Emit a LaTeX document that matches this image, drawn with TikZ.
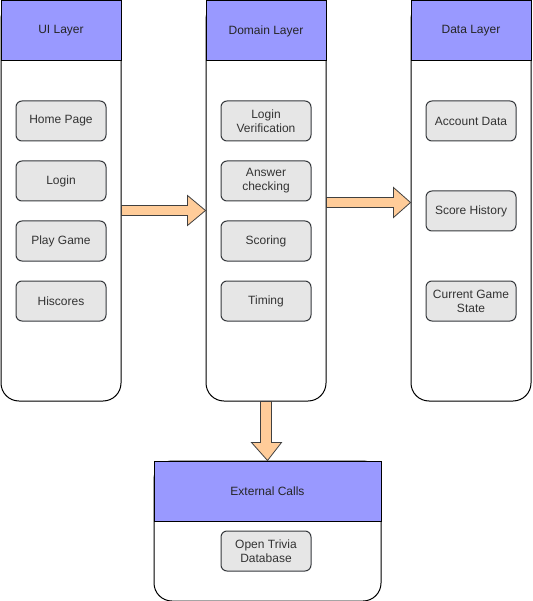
\documentclass[tikz,border=0pt]{standalone}
\usepackage{fontspec}
\setmainfont{Liberation Sans}
\usetikzlibrary{calc}
\definecolor{hdr}{HTML}{9999FF}
\definecolor{arr}{HTML}{FFCC99}
\definecolor{boxfill}{HTML}{E6E6E6}
\definecolor{boxline}{HTML}{36393D}
\definecolor{txt}{HTML}{333333}
\tikzset{
  colbody/.style={draw=black, fill=white, line width=1pt, rounded corners=18pt, anchor=north west, inner sep=0pt},
  colhead/.style={draw=black, fill=hdr, line width=1pt, anchor=north west, inner sep=0pt, minimum height=60pt, text=black!85, font=\fontsize{12}{14}\selectfont},
  item/.style={draw=boxline, fill=boxfill, line width=1pt, rounded corners=6pt, minimum width=90pt, minimum height=40pt, anchor=north west, inner sep=0pt, align=center, text=txt, font=\fontsize{12}{14}\selectfont},
  blockarrow/.style={draw=black!75, fill=arr, line width=0.8pt, line join=miter}
}
\begin{document}
\begin{tikzpicture}[x=1pt,y=-1pt]
\useasboundingbox (0,0) rectangle (532,601);
% columns
\node[colbody, minimum width=120pt, minimum height=400pt] (uib) at (0.5,0.5) {};
\node[colhead, minimum width=120pt] (uih) at (0.5,0.5) {UI Layer};
\node[colbody, minimum width=120pt, minimum height=400pt] (domb) at (205.5,0.5) {};
\node[colhead, minimum width=120pt] (domh) at (205.5,0.5) {Domain Layer};
\node[colbody, minimum width=120pt, minimum height=400pt] (datb) at (410.5,0.5) {};
\node[colhead, minimum width=120pt] (dath) at (410.5,0.5) {Data Layer};
\node[colbody, minimum width=227pt, minimum height=140pt] (extb) at (153.5,460.5) {};
\node[colhead, minimum width=227pt] (exth) at (153.5,460.5) {External Calls};
% UI items
\node[item] (home) at (15.5,100.5) {Home Page};
\node[item] (login) at (15.5,160.5) {Login};
\node[item] (play) at (15.5,220.5) {Play Game};
\node[item] (hisc) at (15.5,280.5) {Hiscores};
% Domain items
\node[item] (lver) at (220.5,100.5) {Login\\Verification};
\node[item] (ansc) at (220.5,160.5) {Answer\\checking};
\node[item] (scor) at (220.5,220.5) {Scoring};
\node[item] (timg) at (220.5,280.5) {Timing};
% Data items
\node[item] (acct) at (425.5,100.5) {Account Data};
\node[item] (hist) at (425.5,190.5) {Score History};
\node[item] (cgs) at (425.5,280.5) {Current Game\\State};
% External item
\node[item] (otdb) at (220.5,530.5) {Open Trivia\\Database};
% arrows
\draw[blockarrow] ($(uib.north east)+(0,205)$) -- ++(66,0) -- ++(0,-10) -- ($(domb.north west)+(0,210)$) -- ($(uib.north east)+(66,225)$) -- ++(0,-10) -- ++(-66,0) -- cycle;
\draw[blockarrow] ($(domb.north east)+(0,197)$) -- ++(67,0) -- ++(0,-10) -- ($(datb.north west)+(0,202)$) -- ($(domb.north east)+(67,217)$) -- ++(0,-10) -- ++(-67,0) -- cycle;
\draw[blockarrow] ($(domb.south)+(-5.5,0)$) -- ++(0,41) -- ++(-9,0) -- ($(exth.north)+(0,0)$) -- ($(domb.south)+(15.5,41)$) -- ++(-10,0) -- ++(0,-41) -- cycle;
\end{tikzpicture}
\end{document}
